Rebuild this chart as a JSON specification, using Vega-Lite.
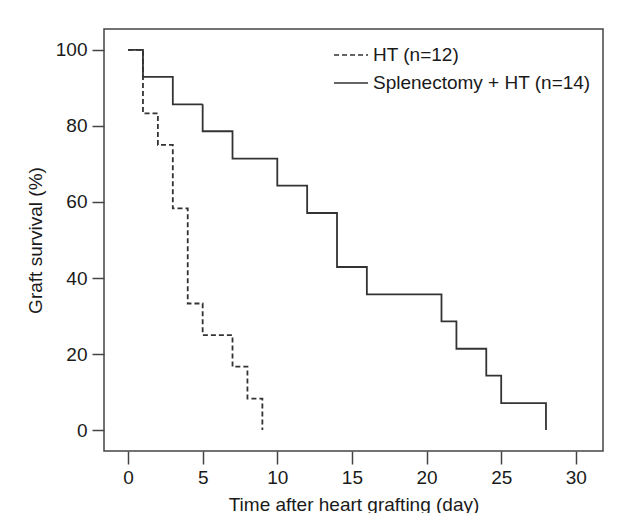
{
  "$schema": "https://vega.github.io/schema/vega-lite/v6.json",
  "autosize": {"type": "none"},
  "width": 499,
  "height": 422,
  "padding": {"left": 104, "top": 29, "right": 16, "bottom": 62},
  "background": "white",
  "config": {
    "font": "Liberation Sans",
    "view": {"stroke": "#444", "strokeWidth": 1.5},
    "axis": {
      "domain": false,
      "grid": false,
      "tickColor": "#444",
      "tickWidth": 1.5,
      "labelColor": "#1a1a1a",
      "titleColor": "#1a1a1a",
      "labelFontSize": 19,
      "titleFontSize": 19,
      "titleFontWeight": "normal"
    }
  },
  "data": {
    "values": [
      {"group": "HT (n=12)", "day": 0, "survival": 100},
      {"group": "HT (n=12)", "day": 1, "survival": 83.3},
      {"group": "HT (n=12)", "day": 2, "survival": 75.0},
      {"group": "HT (n=12)", "day": 3, "survival": 58.3},
      {"group": "HT (n=12)", "day": 4, "survival": 33.3},
      {"group": "HT (n=12)", "day": 5, "survival": 25.0},
      {"group": "HT (n=12)", "day": 7, "survival": 16.7},
      {"group": "HT (n=12)", "day": 8, "survival": 8.3},
      {"group": "HT (n=12)", "day": 9, "survival": 0},
      {"group": "Splenectomy + HT (n=14)", "day": 0, "survival": 100},
      {"group": "Splenectomy + HT (n=14)", "day": 1, "survival": 92.9},
      {"group": "Splenectomy + HT (n=14)", "day": 3, "survival": 85.7},
      {"group": "Splenectomy + HT (n=14)", "day": 5, "survival": 78.6},
      {"group": "Splenectomy + HT (n=14)", "day": 7, "survival": 71.4},
      {"group": "Splenectomy + HT (n=14)", "day": 10, "survival": 64.3},
      {"group": "Splenectomy + HT (n=14)", "day": 12, "survival": 57.1},
      {"group": "Splenectomy + HT (n=14)", "day": 14, "survival": 42.9},
      {"group": "Splenectomy + HT (n=14)", "day": 16, "survival": 35.7},
      {"group": "Splenectomy + HT (n=14)", "day": 21, "survival": 28.6},
      {"group": "Splenectomy + HT (n=14)", "day": 22, "survival": 21.4},
      {"group": "Splenectomy + HT (n=14)", "day": 24, "survival": 14.3},
      {"group": "Splenectomy + HT (n=14)", "day": 25, "survival": 7.1},
      {"group": "Splenectomy + HT (n=14)", "day": 28, "survival": 0}
    ]
  },
  "mark": {"type": "line", "interpolate": "step-after", "color": "#333", "strokeWidth": 1.8},
  "encoding": {
    "x": {
      "field": "day",
      "type": "quantitative",
      "scale": {"domain": [-1.61, 31.82], "nice": false, "zero": false},
      "axis": {"values": [0, 5, 10, 15, 20, 25, 30], "tickSize": 13, "labelPadding": 4, "title": "Time after heart grafting (day)", "titlePadding": 8}
    },
    "y": {
      "field": "survival",
      "type": "quantitative",
      "scale": {"domain": [-5.5, 105.5], "nice": false, "zero": false},
      "axis": {"values": [0, 20, 40, 60, 80, 100], "tickSize": 12, "labelPadding": 5, "title": "Graft survival (%)", "titlePadding": 10}
    },
    "strokeDash": {
      "field": "group",
      "type": "nominal",
      "scale": {"domain": ["HT (n=12)", "Splenectomy + HT (n=14)"], "range": [[5, 3], [1, 0]]},
      "legend": {
        "title": null,
        "orient": "none",
        "legendX": 229,
        "legendY": 8,
        "padding": 0,
        "symbolType": "stroke",
        "symbolSize": 1156,
        "symbolStrokeWidth": 1.5,
        "symbolStrokeColor": "#333",
        "labelFontSize": 19,
        "labelColor": "#1a1a1a",
        "labelOffset": 4,
        "rowPadding": -16,
        "labelLimit": 400
      }
    }
  }
}
